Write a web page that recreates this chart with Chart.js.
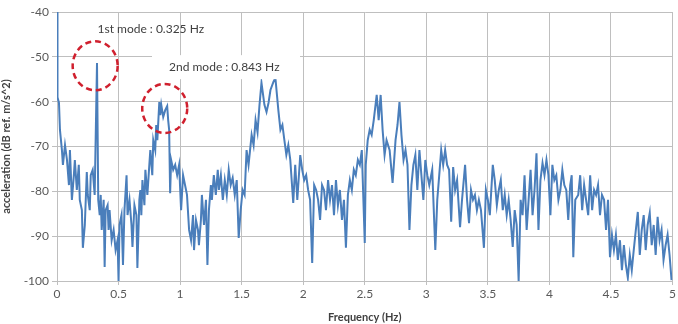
<!DOCTYPE html>
<html>
<head>
<meta charset="utf-8">
<script src="https://cdn.jsdelivr.net/npm/chart.js@4"></script>
<style>
  html, body { margin: 0; padding: 0; background: #fff; }
  #wrap { width: 678px; height: 324px; position: relative; }
</style>
</head>
<body>
<div id="wrap"><canvas id="spectrumChart"></canvas></div>
<script>
// spectrum: frequency (Hz) and level (dB ref. m/s^2)
const freqHz = [
  0, 0.004, 0.016, 0.024, 0.040, 0.048, 0.065, 0.081, 0.097, 0.105,
  0.121, 0.137, 0.145, 0.161, 0.177, 0.185, 0.202, 0.210, 0.226, 0.242,
  0.250, 0.266, 0.274, 0.290, 0.306, 0.325, 0.335, 0.347, 0.355, 0.363,
  0.379, 0.387, 0.395, 0.411, 0.419, 0.427, 0.444, 0.460, 0.476, 0.492,
  0.500, 0.508, 0.524, 0.536, 0.548, 0.565, 0.573, 0.589, 0.605, 0.613,
  0.629, 0.645, 0.653, 0.669, 0.677, 0.685, 0.694, 0.710, 0.718, 0.734,
  0.750, 0.758, 0.774, 0.782, 0.798, 0.806, 0.815, 0.831, 0.839, 0.847,
  0.863, 0.879, 0.895, 0.903, 0.911, 0.919, 0.927, 0.944, 0.960, 0.976,
  0.992, 1.008, 1.024, 1.040, 1.056, 1.073, 1.089, 1.105, 1.113, 1.129,
  1.145, 1.153, 1.169, 1.177, 1.194, 1.210, 1.222, 1.234, 1.250, 1.258,
  1.274, 1.290, 1.306, 1.315, 1.331, 1.347, 1.363, 1.379, 1.395, 1.411,
  1.427, 1.444, 1.460, 1.476, 1.492, 1.508, 1.524, 1.540, 1.556, 1.581,
  1.597, 1.613, 1.629, 1.645, 1.661, 1.685, 1.702, 1.718, 1.734, 1.758,
  1.774, 1.798, 1.815, 1.831, 1.847, 1.863, 1.879, 1.895, 1.919, 1.935,
  1.952, 1.976, 1.992, 2.008, 2.024, 2.040, 2.056, 2.073, 2.089, 2.105,
  2.121, 2.137, 2.153, 2.169, 2.185, 2.202, 2.218, 2.234, 2.250, 2.266,
  2.282, 2.298, 2.315, 2.331, 2.347, 2.363, 2.379, 2.395, 2.411, 2.427,
  2.444, 2.460, 2.476, 2.500, 2.508, 2.524, 2.540, 2.556, 2.573, 2.597,
  2.613, 2.629, 2.645, 2.661, 2.677, 2.702, 2.726, 2.750, 2.766, 2.782,
  2.798, 2.815, 2.831, 2.847, 2.863, 2.879, 2.895, 2.911, 2.927, 2.944,
  2.960, 2.976, 2.992, 3.008, 3.024, 3.048, 3.073, 3.089, 3.105, 3.121,
  3.137, 3.153, 3.169, 3.185, 3.202, 3.218, 3.234, 3.250, 3.274, 3.290,
  3.315, 3.331, 3.347, 3.363, 3.379, 3.395, 3.411, 3.427, 3.444, 3.468,
  3.484, 3.500, 3.516, 3.540, 3.556, 3.573, 3.589, 3.605, 3.621, 3.637,
  3.653, 3.669, 3.685, 3.702, 3.718, 3.734, 3.750, 3.766, 3.782, 3.798,
  3.815, 3.831, 3.847, 3.863, 3.879, 3.895, 3.911, 3.927, 3.944, 3.960,
  3.976, 3.992, 4.008, 4.024, 4.040, 4.056, 4.073, 4.089, 4.105, 4.121,
  4.137, 4.153, 4.169, 4.181, 4.194, 4.210, 4.234, 4.250, 4.266, 4.282,
  4.298, 4.315, 4.331, 4.347, 4.363, 4.379, 4.395, 4.411, 4.427, 4.444,
  4.460, 4.476, 4.492, 4.508, 4.524, 4.540, 4.556, 4.573, 4.589, 4.605,
  4.621, 4.637, 4.653, 4.669, 4.685, 4.702, 4.718, 4.734, 4.750, 4.766,
  4.782, 4.798, 4.815, 4.831, 4.847, 4.863, 4.879, 4.895, 4.911, 4.927,
  4.944, 4.960, 4.976, 4.992
];

const accelDb = [
  -40.0, -59.0, -60.3, -66.3, -70.8, -74.1, -69.7, -73.0, -78.6, -70.8,
  -81.9, -76.4, -73.0, -79.7, -74.1, -81.9, -84.2, -92.6, -87.5, -75.7,
  -80.8, -84.2, -76.4, -75.2, -80.8, -51.4, -81.9, -85.3, -80.8, -88.6,
  -81.9, -96.9, -84.2, -83.1, -88.6, -84.2, -90.9, -88.6, -93.1, -90.9,
  -100.0, -87.5, -85.3, -96.4, -84.2, -76.4, -85.3, -81.9, -87.5, -92.4,
  -83.1, -85.3, -97.1, -81.9, -79.7, -85.3, -77.5, -83.1, -75.2, -80.8,
  -74.1, -70.8, -76.4, -68.6, -70.8, -65.2, -68.6, -60.1, -63.0, -60.7,
  -63.4, -61.9, -61.0, -64.1, -66.3, -80.4, -73.0, -75.2, -74.1, -76.4,
  -74.1, -84.2, -76.4, -78.6, -80.8, -88.6, -90.9, -85.3, -93.1, -86.4,
  -88.6, -92.0, -86.4, -80.8, -87.5, -81.9, -96.4, -84.2, -78.6, -81.9,
  -76.4, -80.8, -75.2, -79.7, -76.4, -81.9, -77.5, -80.8, -75.2, -78.6,
  -77.0, -80.8, -77.5, -90.4, -84.2, -79.7, -80.8, -70.8, -74.1, -67.4,
  -69.7, -64.1, -66.8, -60.7, -55.8, -60.7, -62.3, -60.3, -57.4, -55.6,
  -54.7, -61.9, -66.3, -65.2, -68.6, -71.9, -69.7, -73.0, -82.6, -74.1,
  -81.9, -71.9, -75.2, -77.5, -76.4, -79.7, -81.9, -96.0, -78.6, -79.7,
  -81.9, -86.4, -78.6, -79.7, -84.2, -77.5, -81.9, -78.6, -85.3, -77.5,
  -83.1, -79.7, -86.4, -81.9, -92.6, -80.8, -77.5, -79.7, -75.2, -76.4,
  -73.0, -74.1, -70.8, -91.5, -74.1, -68.6, -66.3, -67.4, -64.1, -58.5,
  -64.1, -58.5, -66.3, -71.9, -68.6, -70.8, -78.1, -68.6, -65.2, -60.1,
  -67.4, -73.0, -70.8, -74.1, -88.6, -78.6, -74.1, -71.9, -79.7, -70.8,
  -76.4, -81.9, -73.0, -76.4, -78.6, -75.2, -93.1, -81.9, -76.4, -70.8,
  -74.1, -70.8, -74.1, -75.2, -86.8, -74.6, -79.7, -77.5, -88.0, -81.9,
  -74.1, -81.9, -87.1, -79.7, -81.9, -80.8, -84.2, -81.9, -84.2, -92.6,
  -79.7, -81.9, -85.3, -74.1, -77.5, -83.1, -79.7, -77.5, -84.2, -80.8,
  -85.3, -81.9, -86.4, -92.4, -84.2, -87.5, -100.0, -81.9, -85.3, -76.4,
  -88.6, -81.9, -75.2, -85.3, -79.7, -71.5, -88.6, -77.5, -73.7, -76.4,
  -73.0, -76.4, -85.3, -74.1, -77.5, -76.4, -81.9, -79.7, -75.2, -78.6,
  -79.7, -86.4, -78.6, -76.4, -94.7, -81.9, -80.8, -76.4, -84.2, -78.6,
  -81.9, -85.3, -76.4, -84.2, -79.7, -80.8, -78.6, -85.3, -80.8, -81.9,
  -88.6, -81.9, -94.7, -89.7, -93.1, -89.7, -95.3, -90.9, -97.6, -92.0,
  -96.4, -99.3, -94.2, -97.6, -93.1, -88.6, -84.6, -94.2, -88.6, -85.3,
  -93.1, -87.5, -84.8, -92.0, -87.5, -94.2, -85.7, -90.9, -88.6, -95.3,
  -92.0, -89.7, -94.2, -99.8
];

// axis ticks
const xTicks = [0, 0.5, 1, 1.5, 2, 2.5, 3, 3.5, 4, 4.5, 5];
const yTicks = [-100, -90, -80, -70, -60, -50, -40];

// mode callouts: label text, label anchor (Hz, dB), circle centre (Hz, dB)
const modeLabels = ["1st mode : 0.325 Hz", "2nd mode : 0.843 Hz"];
const labelAt = [[0.762, -43.8], [1.359, -52.3]];
const circleAt = [[0.31, -52.0], [0.875, -61.5]];

const FONT = "Lato, 'Open Sans', sans-serif";

const calloutPlugin = {
  id: "modeCallouts",
  afterDatasetsDraw(chart) {
    const { ctx, scales: { x, y } } = chart;
    ctx.save();
    // red dashed rings
    ctx.strokeStyle = "#d0202e";
    ctx.lineWidth = 2.5;
    ctx.setLineDash([6, 4]);
    circleAt.forEach(([f, db]) => {
      ctx.beginPath();
      ctx.ellipse(x.getPixelForValue(f), y.getPixelForValue(db), 22.5, 24.5, 0, 0, Math.PI * 2);
      ctx.stroke();
    });
    ctx.setLineDash([]);
    // labels
    ctx.font = "12px " + FONT;
    ctx.textAlign = "center";
    ctx.textBaseline = "middle";
    modeLabels.forEach((txt, i) => {
      const px = x.getPixelForValue(labelAt[i][0]);
      const py = y.getPixelForValue(labelAt[i][1]);
      if (i === 1) {
        ctx.fillStyle = "#fff";
        ctx.fillRect(152, py - 12, 148, 24);
      }
      ctx.fillStyle = "#404040";
      ctx.fillText(txt, px, py);
    });
    ctx.restore();
  }
};

new Chart(document.getElementById("spectrumChart"), {
  type: "line",
  data: {
    datasets: [{
      data: freqHz.map((f, i) => ({ x: f, y: accelDb[i] })),
      borderColor: "#4a7ebb",
      borderWidth: 2,
      pointRadius: 0,
      tension: 0,
      fill: false,
    }],
  },
  options: {
    responsive: true,
    maintainAspectRatio: false,
    animation: false,
    layout: { padding: { top: 12, right: 1, left: 0, bottom: 0 } },
    plugins: { legend: { display: false }, tooltip: { enabled: false } },
    scales: {
      x: {
        type: "linear",
        min: 0,
        max: 5,
        afterBuildTicks: (s) => { s.ticks = xTicks.map((v) => ({ value: v })); },
        afterFit: (s) => { s.height = 43; },
        grid: { color: "#bfbfbf", lineWidth: 1, tickLength: 4 },
        border: { color: "#bfbfbf" },
        ticks: {
          color: "#595959",
          font: { family: FONT, size: 12 },
          padding: 2,
          maxRotation: 0,
          callback: (v) => String(v),
        },
        title: {
          display: true,
          text: "Frequency (Hz)",
          color: "#404040",
          font: { family: FONT, size: 11, weight: "bold" },
          padding: { top: 2, bottom: 0 },
        },
      },
      y: {
        min: -100,
        max: -40,
        afterBuildTicks: (s) => { s.ticks = yTicks.map((v) => ({ value: v })); },
        afterFit: (s) => { s.width = 57; },
        grid: { color: "#bfbfbf", lineWidth: 1, tickLength: 5 },
        border: { color: "#bfbfbf" },
        ticks: {
          color: "#595959",
          font: { family: FONT, size: 12 },
          padding: 3,
          callback: (v) => String(v),
        },
        title: {
          display: true,
          text: "acceleration (dB ref. m/s^2)",
          color: "#404040",
          font: { family: FONT, size: 11, weight: "bold" },
          padding: { top: 0, bottom: 4 },
        },
      },
    },
  },
  plugins: [calloutPlugin],
});
</script>
</body>
</html>
